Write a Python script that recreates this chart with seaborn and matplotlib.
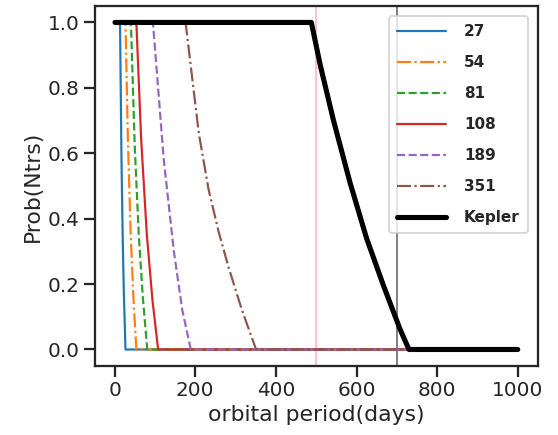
import matplotlib
matplotlib.use("Agg")
import matplotlib.pyplot as plt
import seaborn as sns
import pandas as pd

# ---- data ----
labels = ["27", "54", "81", "108", "189", "351", "Kepler"]

x_27 = [1, 13.5, 17, 20, 23, 27, 1000]
y_27 = [1, 1, 0.59, 0.35, 0.17, 0, 0]

x_54 = [1, 27, 33, 40, 47, 54, 1000]
y_54 = [1, 1, 0.64, 0.35, 0.15, 0, 0]

x_81 = [1, 40.5, 50, 60, 70, 81, 1000]
y_81 = [1, 1, 0.62, 0.35, 0.16, 0, 0]

x_108 = [1, 54, 66, 80, 94, 108, 1000]
y_108 = [1, 1, 0.64, 0.35, 0.15, 0, 0]

x_189 = [1, 95, 122, 147, 168, 189, 1000]
y_189 = [1, 1, 0.58, 0.30, 0.12, 0, 0]

x_351 = [1, 176, 209, 233, 258, 283, 316, 351, 1000]
y_351 = [1, 1, 0.66, 0.49, 0.36, 0.25, 0.12, 0, 0]

x_kep = [1, 488, 510, 543, 584, 625, 667, 708, 730, 1000]
y_kep = [1, 1, 0.87, 0.70, 0.51, 0.34, 0.195, 0.062, 0, 0]

vlines_x = [500, 700]

series_x = [x_27, x_54, x_81, x_108, x_189, x_351, x_kep]
series_y = [y_27, y_54, y_81, y_108, y_189, y_351, y_kep]

# ---- styling ----
colors = ["#1f77b4", "#ff7f0e", "#2ca02c", "#d62728", "#9467bd", "#8c564b", "black"]
styles = ["-", "-.", "--", "-", "--", "-.", "-"]
widths = [1.8, 1.8, 1.8, 1.8, 1.8, 1.8, 4.2]

DPI = 87.5
sns.set_theme(context="talk", style="ticks")
plt.rcParams["font.family"] = ["DejaVu Sans"]
fig, ax = plt.subplots(figsize=(558 / DPI, 435 / DPI), dpi=DPI)
fig.subplots_adjust(left=0.170, right=0.964, top=0.986, bottom=0.159)

ax.axvline(vlines_x[0], color="pink", lw=1.6)
ax.axvline(vlines_x[1], color="gray", lw=1.6)

for lab, xs, ys, c, ls, lw in zip(labels, series_x, series_y, colors, styles, widths):
    df = pd.DataFrame({"x": xs, "y": ys})
    sns.lineplot(data=df, x="x", y="y", ax=ax, color=c, linestyle=ls,
                 linewidth=lw, label=lab, sort=False, estimator=None)

ax.set_xlabel("orbital period(days)")
ax.set_ylabel("Prob(Ntrs)")
ax.set_xticks([0, 200, 400, 600, 800, 1000])
ax.set_yticks([0.0, 0.2, 0.4, 0.6, 0.8, 1.0])

ax.legend(loc="upper right", prop={"family": "DejaVu Sans", "weight": "bold", "size": 12.5},
          handlelength=3.2, handletextpad=1.2, labelspacing=1.05, borderpad=0.55,
          borderaxespad=0.65)

fig.savefig("out.png", dpi=DPI)
